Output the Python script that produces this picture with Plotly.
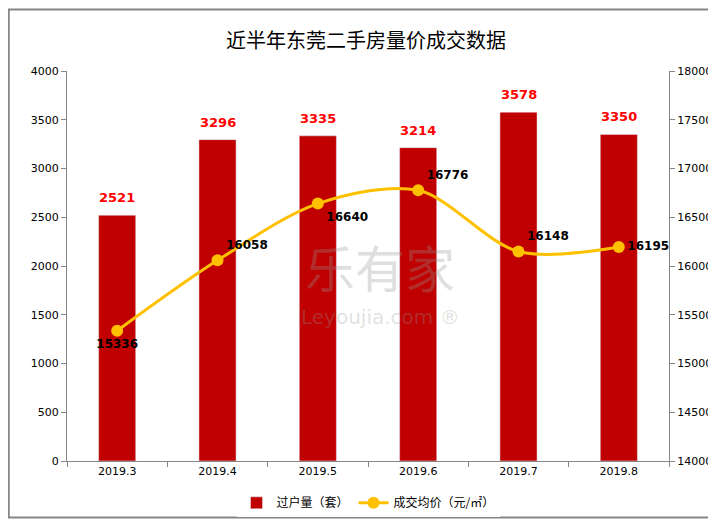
import plotly.graph_objects as go

months = ["2019.3", "2019.4", "2019.5", "2019.6", "2019.7", "2019.8"]
volume = [2521, 3296, 3335, 3214, 3578, 3350]
price = [15336, 16058, 16640, 16776, 16148, 16195]
price_label_pos = ["bottom center", "top right", "bottom right", "top right", "top right", "middle right"]

fig = go.Figure()

fig.add_trace(
    go.Bar(
        x=months,
        y=volume,
        name="过户量（套）",
        marker={"color": "#C00000"},
        hoverinfo="x+y",
    )
)

# bar value labels sit a little above each bar; category axis takes the index
for i, v in enumerate(volume):
    fig.add_annotation(
        x=i, y=v, xref="x", yref="y", text=f"<b>{v}</b>", showarrow=False,
        yanchor="bottom", yshift=8,
        font={"color": "#FF0000", "size": 13, "family": "DejaVu Sans"},
    )

fig.add_trace(
    go.Scatter(
        x=months,
        y=price,
        name="成交均价（元/㎡）",
        yaxis="y2",
        mode="lines+markers+text",
        line={"color": "#FFC000", "width": 3, "shape": "spline", "smoothing": 0.9},
        marker={"color": "#FFC000", "size": 12},
        text=[f"<b>{p}</b>" for p in price],
        textposition=price_label_pos,
        textfont={"color": "#000000", "size": 12, "family": "DejaVu Sans"},
        cliponaxis=False,
    )
)

# faint watermark
fig.add_annotation(
    text="乐有家", x=0.52, y=0.50, xref="paper", yref="paper", showarrow=False,
    font={"size": 50, "color": "rgba(150,150,150,0.3)", "family": "Noto Sans CJK SC"},
)
fig.add_annotation(
    text="Leyoujia.com ®", x=0.52, y=0.37, xref="paper", yref="paper", showarrow=False,
    font={"size": 20, "color": "rgba(150,150,150,0.3)", "family": "DejaVu Sans"},
)

axis_font = {"size": 11, "color": "#000000", "family": "DejaVu Sans"}
fig.update_layout(
    width=716,
    height=521,
    margin={"l": 59, "r": 47, "t": 63, "b": 58},
    paper_bgcolor="white",
    plot_bgcolor="white",
    title={
        "text": "近半年东莞二手房量价成交数据",
        "x": 0.5,
        "y": 0.95,
        "xanchor": "center",
        "font": {"size": 20, "color": "#000000", "family": "Noto Sans CJK SC"},
    },
    bargap=0.63,
    showlegend=True,
    legend={
        "orientation": "h",
        "x": 0.5,
        "xanchor": "center",
        "y": -0.07,
        "yanchor": "top",
        "font": {"size": 12, "color": "#000000", "family": "Noto Sans CJK SC"},
    },
    xaxis={
        "type": "category",
        "showline": True,
        "linecolor": "#868686",
        "ticks": "outside",
        "tickson": "boundaries",
        "tickcolor": "#868686",
        "ticklen": 5,
        "tickfont": axis_font,
        "showgrid": False,
    },
    yaxis={
        "range": [0, 4000],
        "dtick": 500,
        "tickformat": "d",
        "showline": True,
        "linecolor": "#868686",
        "ticks": "outside",
        "tickcolor": "#868686",
        "ticklen": 5,
        "tickfont": axis_font,
        "showgrid": False,
        "zeroline": False,
    },
    yaxis2={
        "range": [14000, 18000],
        "dtick": 500,
        "tickformat": "d",
        "overlaying": "y",
        "side": "right",
        "showline": True,
        "linecolor": "#868686",
        "ticks": "outside",
        "tickcolor": "#868686",
        "ticklen": 5,
        "tickfont": axis_font,
        "showgrid": False,
        "zeroline": False,
    },
    shapes=[
        {
            "type": "rect", "xref": "paper", "yref": "paper",
            "x0": -59 / 610, "x1": 1 + 47 / 610, "y0": -58 / 400, "y1": 1 + 63 / 400,
            "line": {"color": "#868686", "width": 2}, "fillcolor": "rgba(0,0,0,0)",
        }
    ],
)

fig.write_html("out.html")
